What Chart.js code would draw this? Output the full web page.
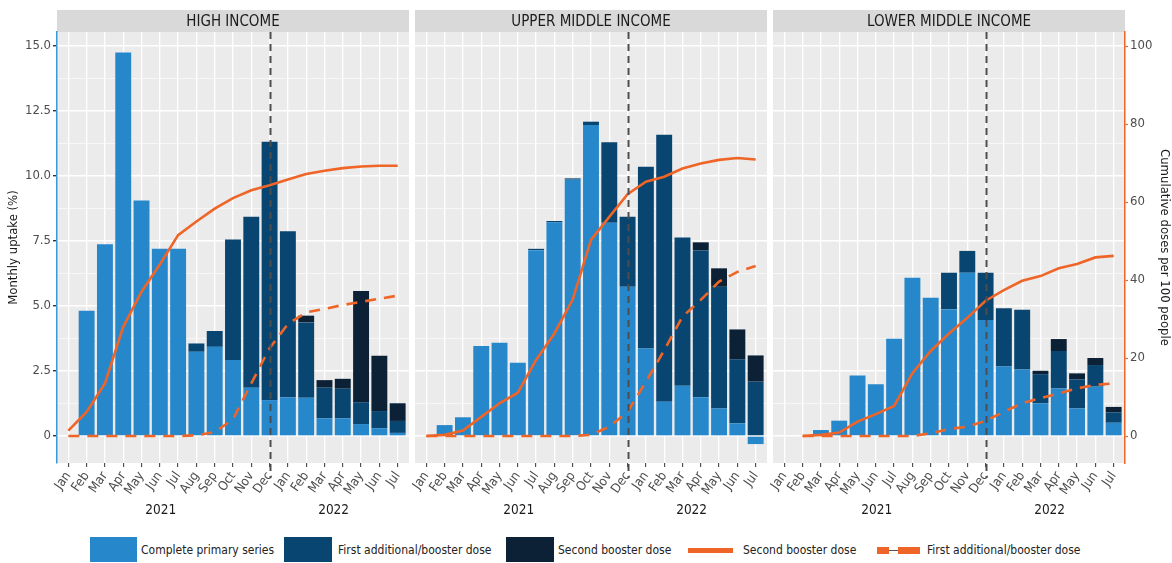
<!DOCTYPE html>
<html>
<head>
<meta charset="utf-8">
<script src="https://cdn.jsdelivr.net/npm/chart.js@4.4.1/dist/chart.umd.min.js"></script>
<style>
  body { margin: 0; background: #fff; width: 1172px; height: 563px; overflow: hidden; position: relative;
         font-family: 'Liberation Sans Narrow', 'DejaVu Sans Condensed', sans-serif; }
  canvas { position: absolute; top: 0; }
  .sw { position: absolute; }
  .lt { position: absolute; top: 542px; font-size: 12px; color: #222; white-space: nowrap; line-height: 16px; }
</style>
</head>
<body>
<canvas id="c1" width="412" height="525" style="left:0"></canvas>
<canvas id="c2" width="358" height="525" style="left:412px"></canvas>
<canvas id="c3" width="402" height="525" style="left:770px"></canvas>

<div class="sw" style="left:90px;top:537px;width:47px;height:25px;background:#2787cb"></div>
<div class="lt" style="left:141px">Complete primary series</div>
<div class="sw" style="left:284px;top:537px;width:48px;height:25px;background:#084570"></div>
<div class="lt" style="left:338px">First additional/booster dose</div>
<div class="sw" style="left:506px;top:537px;width:48px;height:25px;background:#0d2136"></div>
<div class="lt" style="left:558px">Second booster dose</div>
<div class="sw" style="left:688px;top:548px;width:45px;height:5px;background:#ef6527"></div>
<div class="lt" style="left:743px">Second booster dose</div>
<div class="sw" style="left:877px;top:547px;width:12px;height:7px;background:#ef6527"></div>
<div class="sw" style="left:889px;top:550px;width:9px;height:1px;background:#555"></div>
<div class="sw" style="left:898px;top:547px;width:22px;height:7px;background:#ef6527"></div>
<div class="lt" style="left:927px">First additional/booster dose</div>

<script>
var FONT = "'Liberation Sans Narrow', 'DejaVu Sans Condensed', sans-serif";
Chart.defaults.font.family = FONT;

var months = ['Jan','Feb','Mar','Apr','May','Jun','Jul','Aug','Sep','Oct','Nov','Dec',
              'Jan','Feb','Mar','Apr','May','Jun','Jul'];
var years = ['2021', '2022'];

// HIGH INCOME
var hiPrimary = [0, 4.82, 7.38, 14.75, 9.06, 7.2, 7.2, 3.24, 3.43, 2.92, 1.86, 1.38, 1.49, 1.47, 0.68, 0.68, 0.46, 0.3, 0.12];
var hiFirst   = [0, 0, 0, 0, 0, 0, 0, 0.32, 0.61, 4.64, 6.57, 9.94, 6.39, 2.9, 1.18, 1.14, 0.84, 0.66, 0.46];
var hiSecond  = [0, 0, 0, 0, 0, 0, 0, 0, 0, 0, 0, 0, 0, 0.26, 0.29, 0.38, 4.28, 2.13, 0.68];
var hiCumSolid  = [1.4, 6.2, 13.5, 28, 37, 44, 51.5, 55, 58.3, 61, 63, 64.3, 65.8, 67.2, 68, 68.7, 69.1, 69.3, 69.3];
var hiCumDashed = [0, 0, 0, 0, 0, 0, 0, 0.2, 1.0, 4.3, 13.5, 22.5, 28.7, 31.7, 32.6, 33.6, 34.4, 35.2, 36];

// UPPER MIDDLE INCOME
var umPrimary = [0, 0.42, 0.72, 3.46, 3.59, 2.82, 7.15, 8.22, 9.86, 11.96, 8.2, 5.74, 3.37, 1.32, 1.93, 1.49, 1.06, 0.49, -0.31];
var umFirst   = [0, 0, 0, 0, 0, 0, 0.05, 0.05, 0.05, 0.13, 3.1, 2.69, 6.99, 10.27, 5.71, 5.66, 4.68, 2.46, 2.09];
var umSecond  = [0, 0, 0, 0, 0, 0, 0, 0, 0, 0, 0, 0, 0, 0, 0, 0.3, 0.71, 1.15, 1.01];
var umCumSolid  = [0, 0.3, 1.4, 4.9, 8.4, 11.1, 19.5, 26.3, 35, 50.3, 56.2, 62, 65.2, 66.5, 68.6, 69.9, 70.8, 71.3, 70.9];
var umCumDashed = [0, 0, 0, 0, 0, 0, 0, 0, 0, 0.3, 2.4, 6.2, 13.9, 22, 30.6, 34.9, 39.6, 42.1, 43.6];

// LOWER MIDDLE INCOME
var lmPrimary = [0, 0, 0.23, 0.59, 2.33, 1.99, 3.74, 6.09, 5.32, 4.88, 6.28, 4.46, 2.67, 2.56, 1.26, 1.83, 1.06, 1.9, 0.51];
var lmFirst   = [0, 0, 0, 0, 0, 0, 0, 0, 0, 1.4, 0.84, 1.82, 2.24, 2.3, 1.12, 1.44, 1.12, 0.83, 0.4];
var lmSecond  = [0, 0, 0, 0, 0, 0, 0, 0, 0, 0, 0, 0, 0, 0, 0.13, 0.46, 0.23, 0.27, 0.21];
var lmCumSolid  = [null, 0, 0.3, 0.9, 3.7, 5.6, 7.7, 16.1, 21.8, 26.3, 30.3, 34.7, 37.4, 39.8, 41, 43, 44.1, 45.8, 46.2];
var lmCumDashed = [null, 0, 0, 0, 0, 0, 0, 0, 0.7, 1.8, 2.4, 3.9, 6.2, 8.4, 9.7, 10.9, 12.2, 13.1, 13.5];

var yTicks = [0, 1.25, 2.5, 3.75, 5, 6.25, 7.5, 8.75, 10, 11.25, 12.5, 13.75, 15];
var y2Ticks = [0, 20, 40, 60, 80, 100];

var C_PRIMARY = '#2787cb', C_FIRST = '#084570', C_SECOND = '#0d2136', C_ORANGE = '#ef6527';

function xy(arr) {
  return arr.map(function (v, i) { return { x: i, y: v }; });
}
function isMajor(v) {
  return Math.abs(v / 2.5 - Math.round(v / 2.5)) < 1e-6;
}

function decoPlugin(title) {
  return {
    id: 'deco',
    beforeDraw: function (chart) {
      var a = chart.chartArea, c = chart.ctx;
      c.save();
      c.fillStyle = '#ebebeb';
      c.fillRect(a.left, a.top, a.right - a.left, a.bottom - a.top);
      c.fillStyle = '#d9d9d9';
      c.fillRect(a.left, 10, a.right - a.left, a.top - 10);
      c.fillStyle = '#1a1a1a';
      c.font = '15px ' + FONT;
      c.textAlign = 'center';
      c.textBaseline = 'middle';
      c.fillText(title, (a.left + a.right) / 2, 22);
      c.restore();
    },
    afterDatasetsDraw: function (chart) {
      var a = chart.chartArea, c = chart.ctx, xs = chart.scales.x;
      var px = Math.round(xs.getPixelForValue(11)) + 0.5;
      c.save();
      c.strokeStyle = '#4d4d4d';
      c.lineWidth = 2;
      c.setLineDash([7, 5]);
      c.beginPath();
      c.moveTo(px, a.top);
      c.lineTo(px, a.bottom + 15);
      c.stroke();
      c.restore();
    },
    afterDraw: function (chart) {
      var c = chart.ctx, xs = chart.scales.x;
      c.save();
      c.fillStyle = '#1a1a1a';
      c.font = '13.5px ' + FONT;
      c.textAlign = 'center';
      c.textBaseline = 'middle';
      c.fillText(years[0], xs.getPixelForValue(5.05), 510);
      c.fillText(years[1], xs.getPixelForValue(14.5), 510);
      c.restore();
    }
  };
}

function makePanel(id, title, primary, first, second, cumSolid, cumDashed, side) {
  var showLeft = side === 'left', showRight = side === 'right';
  var pad = { top: 32, bottom: 0, left: showLeft ? 0 : 3, right: showRight ? 0 : 3 };

  return new Chart(document.getElementById(id).getContext('2d'), {
    type: 'bar',
    data: {
      datasets: [
        { label: 'Complete primary series', data: xy(primary), backgroundColor: C_PRIMARY, stack: 'a', order: 2, yAxisID: 'y' },
        { label: 'First additional/booster dose', data: xy(first), backgroundColor: C_FIRST, stack: 'a', order: 2, yAxisID: 'y' },
        { label: 'Second booster dose', data: xy(second), backgroundColor: C_SECOND, stack: 'a', order: 2, yAxisID: 'y' },
        { type: 'line', label: 'Second booster dose', data: xy(cumSolid), borderColor: C_ORANGE, borderWidth: 2.6,
          pointRadius: 0, tension: 0, yAxisID: 'y2', order: 0 },
        { type: 'line', label: 'First additional/booster dose', data: xy(cumDashed), borderColor: C_ORANGE, borderWidth: 2.6,
          borderDash: [11, 8], pointRadius: 0, tension: 0, yAxisID: 'y2', order: 0 }
      ]
    },
    options: {
      responsive: false,
      animation: false,
      layout: { padding: pad },
      plugins: { legend: { display: false }, tooltip: { enabled: false } },
      datasets: { bar: { categoryPercentage: 1, barPercentage: 0.87, borderWidth: 0 } },
      scales: {
        x: {
          type: 'linear', stacked: true, offset: false, min: -0.62, max: 18.62,
          afterBuildTicks: function (s) { s.ticks = months.map(function (m, i) { return { value: i }; }); },
          afterFit: function (s) { s.height = 62; s.paddingLeft = 0; s.paddingRight = 0; },
          grid: { offset: false, color: '#ffffff', lineWidth: 1.3, tickColor: '#333333', tickLength: 4, tickWidth: 1 },
          border: { display: false },
          ticks: {
            autoSkip: false, minRotation: 55, maxRotation: 55, padding: 2,
            color: '#4d4d4d', font: { size: 13 },
            callback: function (v) { return months[v]; }
          }
        },
        y: {
          type: 'linear', stacked: true, position: 'left', min: -1.038, max: 15.54,
          afterBuildTicks: function (s) { s.ticks = yTicks.map(function (v) { return { value: v }; }); },
          afterFit: function (s) { s.width = showLeft ? 57 : 0; s.paddingTop = 0; s.paddingBottom = 0; },
          grid: {
            color: '#ffffff',
            lineWidth: function (ctx) { return ctx.tick && isMajor(ctx.tick.value) ? 1.4 : 0.6; },
            drawTicks: showLeft, tickLength: 4,
            tickColor: function (ctx) { return ctx.tick && isMajor(ctx.tick.value) ? '#333333' : 'rgba(0,0,0,0)'; }
          },
          border: { display: showLeft, color: '#3a9ad9', width: 1.5 },
          ticks: {
            display: showLeft, color: '#4d4d4d', font: { size: 13 }, padding: 2,
            callback: function (v) { return isMajor(v) ? (v === 0 ? '0' : v.toFixed(1)) : ''; }
          },
          title: { display: showLeft, text: 'Monthly uptake (%)', color: '#1a1a1a', font: { size: 13 }, padding: { top: 6, bottom: 0 } }
        },
        y2: {
          type: 'linear', position: 'right', display: showRight, min: -6.92, max: 103.6,
          afterBuildTicks: function (s) { s.ticks = y2Ticks.map(function (v) { return { value: v }; }); },
          afterFit: function (s) { s.width = showRight ? 47 : 0; s.paddingTop = 0; s.paddingBottom = 0; },
          grid: { drawOnChartArea: false, tickColor: C_ORANGE, tickLength: 3, tickWidth: 1.2 },
          border: { color: C_ORANGE, width: 1.5 },
          ticks: { color: '#4d4d4d', font: { size: 13 }, padding: 2 },
          title: { display: true, text: 'Cumulative doses per 100 people', color: '#1a1a1a', font: { size: 13 }, padding: { top: 0, bottom: 0 } }
        }
      }
    },
    plugins: [decoPlugin(title)]
  });
}

makePanel('c1', 'HIGH INCOME', hiPrimary, hiFirst, hiSecond, hiCumSolid, hiCumDashed, 'left');
makePanel('c2', 'UPPER MIDDLE INCOME', umPrimary, umFirst, umSecond, umCumSolid, umCumDashed, 'none');
makePanel('c3', 'LOWER MIDDLE INCOME', lmPrimary, lmFirst, lmSecond, lmCumSolid, lmCumDashed, 'right');
</script>
</body>
</html>
